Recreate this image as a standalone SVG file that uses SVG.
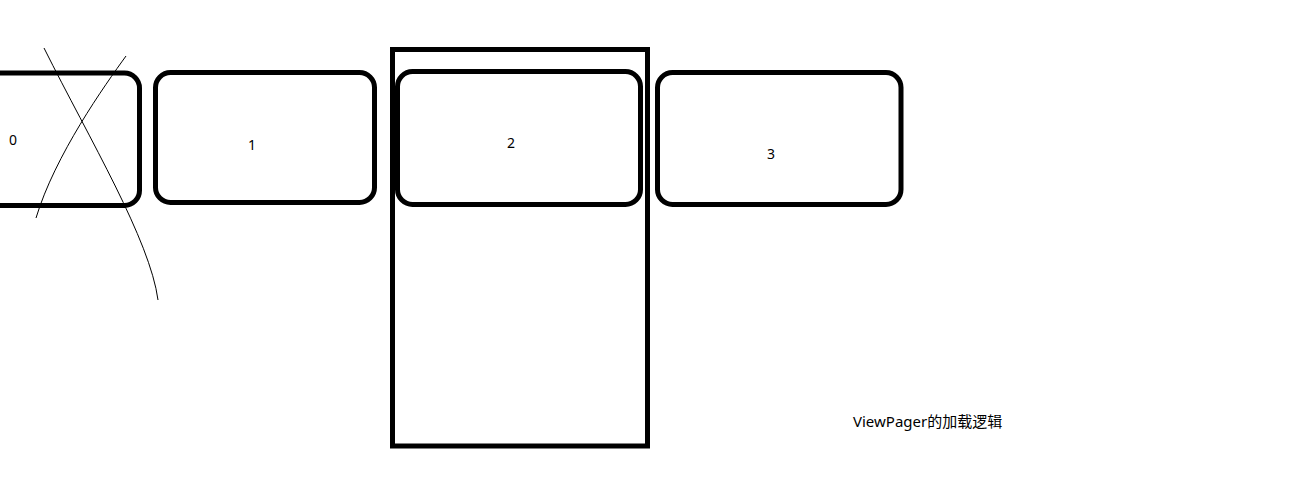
<svg xmlns="http://www.w3.org/2000/svg" width="1298" height="501" viewBox="0 0 1298 501">
<style>
.box{fill:none;stroke:#000;stroke-width:5}
.lbl{font-family:"Noto Sans","Noto Sans CJK SC",sans-serif;font-size:14px;fill:#000;text-anchor:middle}
.cap{font-family:"Noto Sans","Noto Sans CJK SC",sans-serif;font-size:15px;fill:#000;text-anchor:start}
.cross{fill:none;stroke:#000;stroke-width:1}
</style>
<rect width="1298" height="501" fill="#fff"/>
<g id="page0">
<rect class="box" x="-30" y="73" width="169.5" height="132.5" rx="15"/>
<text class="lbl" x="13" y="145">0</text>
</g>
<g id="page1">
<rect class="box" x="155.5" y="72.5" width="219" height="130" rx="15"/>
<text class="lbl" x="252" y="150">1</text>
</g>
<g id="viewport">
<rect class="box" x="392.5" y="49.5" width="255" height="396.5"/>
</g>
<g id="page2">
<rect class="box" x="397.5" y="71.5" width="243" height="133" rx="15"/>
<text class="lbl" x="511" y="148">2</text>
</g>
<g id="page3">
<rect class="box" x="657.5" y="72.5" width="243.5" height="132" rx="15"/>
<text class="lbl" x="771" y="159">3</text>
</g>
<g id="connectors">
<path class="cross" d="M44,48 C90,140 150,240 158,300"/>
<path class="cross" d="M126,56 C105,85 55,155 36,218"/>
</g>
<g id="caption">
<text class="cap" x="853" y="427">ViewPager的加载逻辑</text>
</g>
</svg>
